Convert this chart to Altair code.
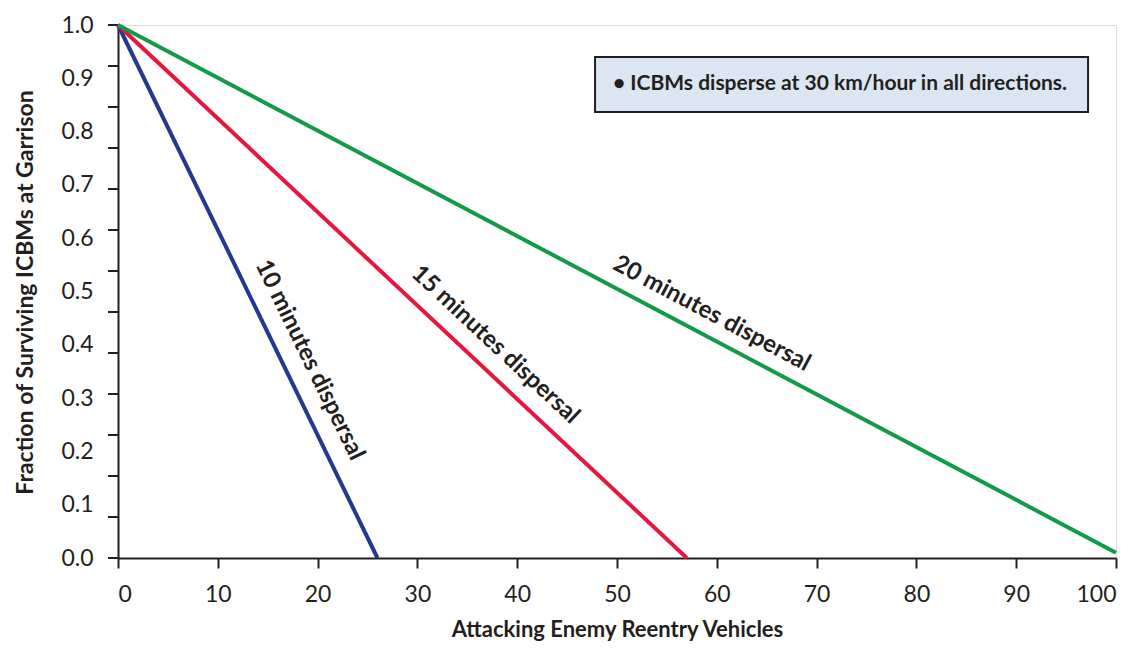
import altair as alt
import pandas as pd

# Data
series_names = ["10 minutes dispersal", "15 minutes dispersal", "20 minutes dispersal"]
series_colors = ["#24398e", "#e5173f", "#139a48"]
start_x = [0, 0, 0]
start_y = [1.0, 1.0, 1.0]
end_x = [26, 57, 100]
end_y = [0.0, 0.0, 0.01]

# label anchors (data units) and rotation along each line
label_x = [19.2, 37.8, 59.5]
label_y = [0.371, 0.40, 0.458]
label_angle = [64, 43, 28]

x_ticks = [0, 10, 20, 30, 40, 50, 60, 70, 80, 90, 100]
y_labels = [0.0, 0.1, 0.2, 0.3, 0.4, 0.5, 0.6, 0.7, 0.8, 0.9, 1.0]
y_tick_marks = [k / 13 for k in range(14)]

note_text = ["•  ICBMs disperse at 30 km/hour in all directions."]
note_box_x = [47.8]
note_box_x2 = [97.2]
note_box_y = [0.837]
note_box_y2 = [0.940]
note_text_x = [49.6]
note_text_y = [0.889]

FONT = "Lato"
INK = "#231f20"

rows = []
for i, n in enumerate(series_names):
    rows.append({"series": n, "x": start_x[i], "y": start_y[i], "o": 0})
    rows.append({"series": n, "x": end_x[i], "y": end_y[i], "o": 1})
lines_df = pd.DataFrame(rows)

labels_df = pd.DataFrame({"series": series_names, "x": label_x, "y": label_y, "angle": label_angle})
ticks_df = pd.DataFrame({"t": y_tick_marks})
box_df = pd.DataFrame({"x": note_box_x, "x2": note_box_x2, "y": note_box_y, "y2": note_box_y2})
note_df = pd.DataFrame({"x": note_text_x, "y": note_text_y, "text": note_text})

xscale = alt.Scale(domain=[0, 100], nice=False, zero=False)
yscale = alt.Scale(domain=[0, 1], nice=False, zero=False)

xaxis = alt.Axis(values=x_ticks, title="Attacking Enemy Reentry Vehicles", grid=False,
                 tickSize=10, tickWidth=2, tickColor=INK, domainColor=INK, domainWidth=2,
                 labelFont=FONT, labelFontSize=23, labelColor=INK, labelPadding=15,
                 titleFont=FONT, titleFontSize=22, titleFontWeight="bold", titleColor=INK,
                 titleY=71, titleBaseline="middle")
yaxis = alt.Axis(values=y_labels, format=".1f", title="Fraction of Surviving ICBMs at Garrison",
                 grid=False, ticks=False, domainColor=INK, domainWidth=2,
                 labelFont=FONT, labelFontSize=23, labelColor=INK, labelPadding=25,
                 titleFont=FONT, titleFontSize=23, titleFontWeight="bold", titleColor=INK,
                 titleX=-93, titleY=267, titleBaseline="middle", titleAngle=-90)

color = alt.Color("series:N", scale=alt.Scale(domain=series_names, range=series_colors), legend=None)

lines = alt.Chart(lines_df).mark_line(strokeWidth=4, clip=False).encode(
    x=alt.X("x:Q", scale=xscale, axis=xaxis),
    y=alt.Y("y:Q", scale=yscale, axis=yaxis),
    color=color,
    order="o:Q",
    detail="series:N",
)

yticks = alt.Chart(ticks_df).mark_rule(color=INK, strokeWidth=2).encode(
    y=alt.Y("t:Q", scale=yscale),
    x=alt.value(-10),
    x2=alt.value(0),
)

box = alt.Chart(box_df).mark_rect(fill="#dce6f2", stroke=INK, strokeWidth=2).encode(
    x=alt.X("x:Q", scale=xscale), x2="x2:Q",
    y=alt.Y("y:Q", scale=yscale), y2="y2:Q",
)

note = alt.Chart(note_df).mark_text(font=FONT, fontSize=21, fontWeight="bold", color=INK,
                                    align="left", baseline="middle").encode(
    x=alt.X("x:Q", scale=xscale), y=alt.Y("y:Q", scale=yscale), text="text:N")

labels = alt.Chart(labels_df).mark_text(font=FONT, fontSize=24, fontWeight="bold", color=INK,
                                        align="center", baseline="middle").encode(
    x=alt.X("x:Q", scale=xscale), y=alt.Y("y:Q", scale=yscale),
    text="series:N", angle=alt.Angle("angle:Q", scale=None))

chart = alt.layer(yticks, box, note, lines, labels).properties(
    width=998, height=533,
    autosize=alt.AutoSizeParams(type="none"),
    padding={"left": 110, "top": 17, "right": 17, "bottom": 85},
).configure_view(stroke=INK, strokeWidth=2).configure(background="white")

chart.save("out.html", embed_options={"renderer": "svg", "actions": False})
